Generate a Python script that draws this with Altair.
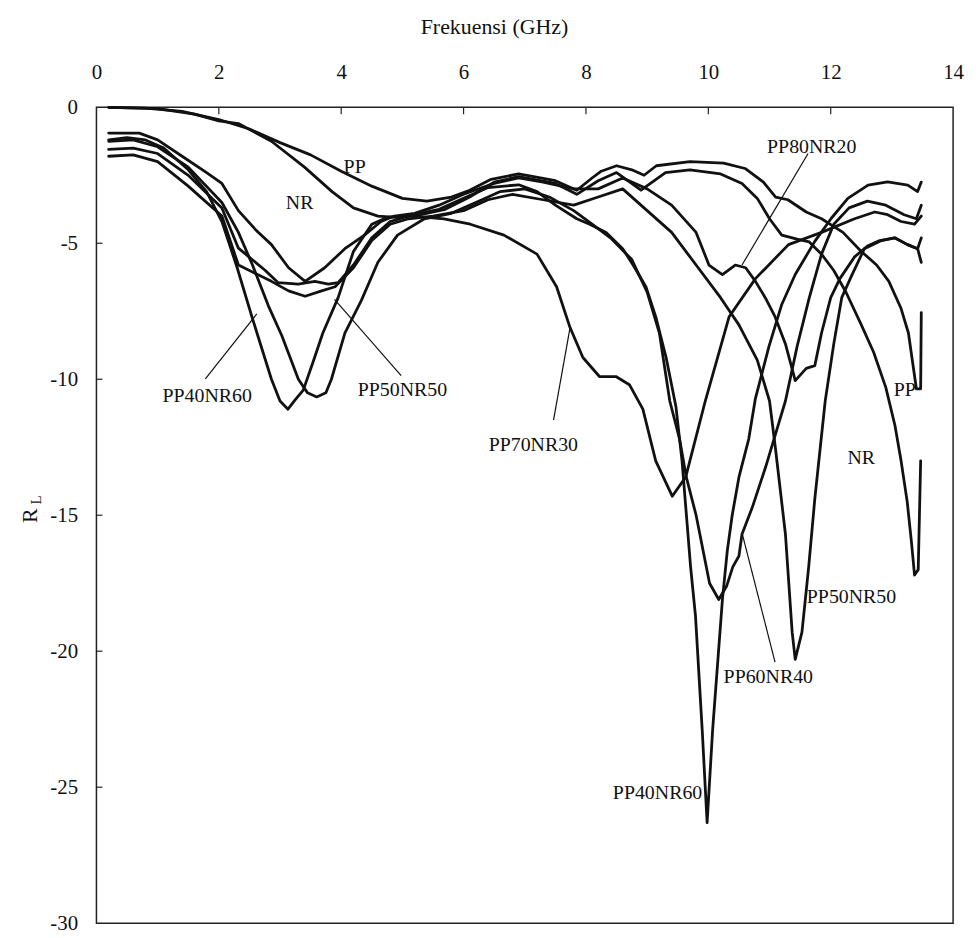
import altair as alt
import pandas as pd

# ---- data (frequency in GHz, reflection loss in dB) ----
pp_x = [0.2, 0.8, 1.4, 2.0, 2.5, 3.0, 3.5, 4.0, 4.5, 5.0, 5.4, 5.8, 6.1, 6.45, 6.9, 7.5, 7.85, 8.1, 8.25, 8.5,
        8.75, 8.95, 9.15, 9.7, 10.25, 10.6, 10.9, 11.1, 11.3, 11.6, 11.85, 12.2, 12.5, 12.75, 12.95, 13.15,
        13.27, 13.4, 13.47, 13.48]
pp_y = [0, -0.03, -0.15, -0.45, -0.8, -1.3, -1.75, -2.35, -2.9, -3.35, -3.45, -3.3, -3.05, -2.65, -2.45, -2.7,
        -3.05, -2.6, -2.35, -2.15, -2.3, -2.5, -2.15, -2.0, -2.05, -2.25, -2.75, -3.3, -3.4, -3.85, -4.1, -4.6,
        -5.3, -5.8, -6.4, -7.4, -8.3, -10.35, -10.35, -7.55]

nr_x = [0.2, 1.0, 1.6, 2.0, 2.32, 2.86, 3.4, 3.85, 4.2, 4.6, 4.9, 5.3, 5.7, 6.1, 6.5, 6.9, 7.5, 7.85, 8.2, 8.5,
        8.9, 9.3, 9.7, 10.2, 10.55, 10.8, 11.0, 11.2, 11.45, 11.65, 11.85, 12.05, 12.25, 12.5, 12.7, 12.9,
        13.05, 13.15, 13.25, 13.32, 13.37, 13.43, 13.47]
nr_y = [0, -0.05, -0.25, -0.5, -0.6, -1.25, -2.2, -3.1, -3.7, -4.0, -4.05, -3.95, -3.75, -3.3, -2.75, -2.55,
        -2.8, -3.2, -2.7, -2.4, -3.05, -2.4, -2.3, -2.45, -2.8, -3.35, -4.1, -4.7, -4.85, -4.95, -5.4, -6.0,
        -6.8, -8.0, -9.0, -10.3, -11.7, -13.0, -14.5, -16.0, -17.2, -17.0, -13.0]

pp40_x = [0.2, 0.5, 0.8, 1.1, 1.5, 1.8, 2.05, 2.3, 2.54, 2.86, 3.0, 3.13, 3.25, 3.38, 3.55, 3.7, 3.95, 4.2, 4.5,
          4.75, 5.2, 5.6, 6.0, 6.4, 6.9, 7.2, 7.5, 7.85, 8.06, 8.33, 8.6, 8.77, 8.98, 9.14, 9.31, 9.47, 9.57,
          9.71, 9.79, 9.9, 9.98, 10.07, 10.15, 10.23, 10.31, 10.39, 10.5, 10.66, 10.77, 10.99, 11.2, 11.42,
          11.74, 12.01, 12.28, 12.61, 12.93, 13.26, 13.42, 13.48]
pp40_y = [-1.2, -1.12, -1.2, -1.5, -2.3, -3.1, -4.2, -5.9, -7.7, -10.0, -10.8, -11.1, -10.75, -10.4, -9.3, -8.3,
          -7.0, -5.3, -4.3, -4.05, -3.95, -3.75, -3.35, -2.95, -2.85, -3.1, -3.6, -4.1, -4.3, -4.6, -5.2, -5.8,
          -6.6, -7.7, -9.2, -11.0, -13.0, -16.9, -18.7, -22.9, -26.3, -22.9, -20.5, -18.1, -16.3, -15.0, -13.6,
          -12.2, -10.7, -8.8, -7.25, -6.15, -4.93, -4.08, -3.35, -2.86, -2.74, -2.86, -3.1, -2.75]

pp50_x = [0.2, 0.6, 1.0, 1.5, 2.05, 2.32, 2.86, 3.14, 3.41, 3.68, 3.9, 4.2, 4.5, 4.8, 5.1, 5.5, 6.0, 6.4, 6.8,
          7.3, 7.8, 8.2, 8.6, 9.0, 9.4, 9.8, 10.2, 10.5, 10.8, 11.0, 11.1, 11.26, 11.37, 11.42, 11.53, 11.64,
          11.74, 11.91, 12.05, 12.18, 12.34, 12.55, 12.83, 13.04, 13.26, 13.42, 13.48]
pp50_y = [-1.8, -1.75, -2.0, -2.9, -4.0, -5.8, -6.4, -6.75, -6.95, -6.75, -6.6, -5.9, -4.9, -4.3, -4.1, -4.0,
          -3.8, -3.4, -3.2, -3.4, -3.6, -3.3, -3.0, -3.8, -4.6, -5.8, -7.0, -8.0, -9.3, -10.8, -12.6, -15.7,
          -19.3, -20.3, -19.3, -16.9, -14.4, -10.8, -8.7, -7.0, -6.2, -5.2, -4.9, -4.8, -5.05, -5.2, -4.8]

pp60_x = [0.2, 0.6, 1.0, 1.5, 2.05, 2.32, 2.55, 2.81, 3.03, 3.3, 3.45, 3.6, 3.75, 3.84, 4.06, 4.33, 4.6, 4.92,
          5.36, 5.8, 6.2, 6.6, 7.0, 7.4, 7.8, 8.1, 8.4, 8.75, 9.0, 9.2, 9.37, 9.53, 9.64, 9.8, 10.02, 10.17,
          10.3, 10.4, 10.5, 10.55, 10.72, 10.94, 11.1, 11.26, 11.45, 11.65, 11.85, 12.05, 12.3, 12.6, 12.9,
          13.2, 13.4, 13.48]
pp60_y = [-1.25, -1.2, -1.45, -2.2, -3.5, -4.6, -5.8, -7.3, -8.4, -10.0, -10.5, -10.65, -10.5, -10.0, -8.3,
          -7.1, -5.7, -4.7, -4.1, -3.9, -3.5, -3.1, -3.0, -3.3, -3.8, -4.3, -4.8, -5.6, -6.8, -8.3, -10.8,
          -12.2, -13.6, -15.0, -17.5, -18.1, -17.6, -16.9, -16.5, -15.7, -14.7, -13.2, -12.0, -10.8, -8.8,
          -7.0, -5.4, -4.3, -3.7, -3.45, -3.6, -3.95, -4.1, -3.6]

pp70_x = [0.2, 0.6, 1.0, 1.5, 2.05, 2.32, 2.76, 2.97, 3.3, 3.57, 3.79, 3.95, 4.2, 4.5, 4.8, 5.1, 5.4, 5.68,
          6.11, 6.66, 7.2, 7.52, 7.74, 7.95, 8.22, 8.49, 8.71, 8.93, 9.14, 9.41, 9.63, 9.95, 10.34, 10.77,
          11.31, 11.85, 12.39, 12.72, 12.93, 13.15, 13.37, 13.48]
pp70_y = [-1.55, -1.5, -1.7, -2.5, -3.7, -5.18, -6.0, -6.45, -6.5, -6.4, -6.5, -6.45, -5.8, -4.8, -4.2, -4.0,
          -4.05, -4.1, -4.3, -4.7, -5.4, -6.6, -8.1, -9.2, -9.9, -9.9, -10.2, -11.1, -13.0, -14.3, -13.6,
          -10.8, -7.7, -6.3, -5.05, -4.6, -4.1, -3.85, -3.95, -4.2, -4.3, -4.0]

pp80_x = [0.2, 0.7, 1.0, 1.4, 1.8, 2.05, 2.32, 2.6, 2.86, 3.14, 3.41, 3.73, 4.06, 4.38, 4.65, 4.87, 5.2, 5.6,
          6.0, 6.5, 6.9, 7.3, 7.8, 8.2, 8.6, 9.0, 9.4, 9.8, 10.01, 10.23, 10.44, 10.61, 10.77, 10.93, 11.09,
          11.26, 11.42, 11.6, 11.74, 11.85, 12.0, 12.15, 12.39, 12.6, 12.8, 13.05, 13.25, 13.42, 13.48]
pp80_y = [-0.95, -0.95, -1.2, -1.8, -2.4, -2.8, -3.8, -4.5, -5.05, -5.9, -6.4, -5.9, -5.2, -4.7, -4.2, -4.0,
          -3.9, -3.6, -3.2, -2.8, -2.6, -2.75, -3.0, -3.0, -2.6, -3.0, -3.6, -4.6, -5.8, -6.15, -5.8, -5.9,
          -6.4, -7.0, -7.7, -8.7, -10.05, -9.6, -9.5, -8.3, -7.0, -6.3, -5.5, -5.1, -4.9, -4.8, -5.05, -5.2,
          -5.7]

series = {
    "PP": (pp_x, pp_y),
    "NR": (nr_x, nr_y),
    "PP40NR60": (pp40_x, pp40_y),
    "PP50NR50": (pp50_x, pp50_y),
    "PP60NR40": (pp60_x, pp60_y),
    "PP70NR30": (pp70_x, pp70_y),
    "PP80NR20": (pp80_x, pp80_y),
}
series_names = list(series.keys())
series_widths = [2.8, 2.8, 2.8, 1.2, 1.6, 1.2, 1.2]

label_text = ["PP", "NR", "PP40NR60", "PP50NR50", "PP70NR30", "PP80NR20", "PP", "NR", "PP50NR50",
              "PP60NR40", "PP40NR60"]
label_x = [4.22, 3.32, 1.81, 5.0, 7.14, 11.69, 13.21, 12.5, 12.34, 10.98, 9.17]
label_y = [-2.2, -3.53, -10.6, -10.41, -12.42, -1.46, -10.41, -12.91, -18.02, -20.95, -25.2]

leader_x = [1.78, 4.98, 7.47, 11.63, 11.09]
leader_y = [-9.99, -9.87, -11.5, -1.7, -20.4]
leader_x2 = [2.62, 3.89, 7.74, 10.55, 10.55]
leader_y2 = [-7.6, -7.06, -8.1, -5.8, -15.65]

x_ticks = [0, 2, 4, 6, 8, 10, 12, 14]
y_ticks = [0, -5, -10, -15, -20, -25, -30]

# ---- build tables ----
rows = []
for name, (xs, ys) in series.items():
    for i, (xv, yv) in enumerate(zip(xs, ys)):
        rows.append({"series": name, "i": i, "x": xv, "y": yv})
df = pd.DataFrame(rows)
labels = pd.DataFrame({"t": label_text, "x": label_x, "y": label_y})
leaders = pd.DataFrame({"x": leader_x, "y": leader_y, "x2": leader_x2, "y2": leader_y2})
xt = pd.DataFrame({"x": x_ticks[1:-1]})
yt = pd.DataFrame({"y": y_ticks[1:-1]})

FONT = "Liberation Serif"
W, H = 862, 821

xscale = alt.Scale(domain=[0, 14], nice=False, zero=False)
yscale = alt.Scale(domain=[-30, 0], nice=False, zero=False)

x_enc = alt.X("x:Q", scale=xscale, axis=alt.Axis(
    orient="top", values=x_ticks, tickSize=0, domain=False, grid=False,
    labelExpr="'' + datum.value",
    labelFont=FONT, labelFontSize=21, labelColor="#111", labelPadding=25, labelFlush=False,
    title="Frekuensi (GHz)", titleFont=FONT, titleFontSize=22, titleFontWeight="normal",
    titleColor="#111", titleX=400, titleY=-81, titleBaseline="middle", titleAnchor="start",
    titleAlign="center"))
y_enc = alt.Y("y:Q", scale=yscale, axis=alt.Axis(
    values=y_ticks, tickSize=0, domain=False, grid=False,
    labelExpr="datum.value < 0 ? '-' + (-datum.value) : '' + datum.value",
    labelFont=FONT, labelFontSize=21,
    labelColor="#111", labelPadding=19, labelFlush=False, title=None))

lines = alt.Chart(df).mark_line(color="#111", strokeJoin="round", strokeCap="round").encode(
    x=x_enc, y=y_enc,
    detail="series:N",
    order="i:Q",
    strokeWidth=alt.StrokeWidth("series:N", scale=alt.Scale(domain=series_names, range=series_widths),
                                legend=None),
)

text_layer = alt.Chart(labels).mark_text(font=FONT, fontSize=20, color="#111", align="center",
                                         baseline="middle").encode(
    x=alt.X("x:Q", scale=xscale), y=alt.Y("y:Q", scale=yscale), text="t:N")

leader_layer = alt.Chart(leaders).mark_rule(color="#111", strokeWidth=1.2).encode(
    x=alt.X("x:Q", scale=xscale), y=alt.Y("y:Q", scale=yscale), x2="x2:Q", y2="y2:Q")

xtick_layer = alt.Chart(xt).mark_rule(color="#222", strokeWidth=1.2).encode(
    x=alt.X("x:Q", scale=xscale), y=alt.value(0), y2=alt.value(7))
ytick_layer = alt.Chart(yt).mark_rule(color="#222", strokeWidth=1.2).encode(
    y=alt.Y("y:Q", scale=yscale), x=alt.value(0), x2=alt.value(6))

one = pd.DataFrame({"a": [0]})
r_title = alt.Chart(one).mark_text(text="R", font=FONT, fontSize=22, color="#111", angle=270,
                                   align="center", baseline="middle").encode(
    x=alt.value(-67), y=alt.value(411))
l_title = alt.Chart(one).mark_text(text="L", font=FONT, fontSize=15, color="#111", angle=270,
                                   align="center", baseline="middle").encode(
    x=alt.value(-61), y=alt.value(395))

chart = alt.layer(text_layer, leader_layer, lines, xtick_layer, ytick_layer, r_title, l_title).properties(
    width=W, height=H,
    autosize=alt.AutoSizeParams(type="none"),
    padding={"left": 89, "top": 97, "right": 15, "bottom": 11},
    background="white",
).configure_view(stroke="#222", strokeWidth=1.5)

chart.save("out.html", embed_options={"renderer": "svg", "actions": False})
